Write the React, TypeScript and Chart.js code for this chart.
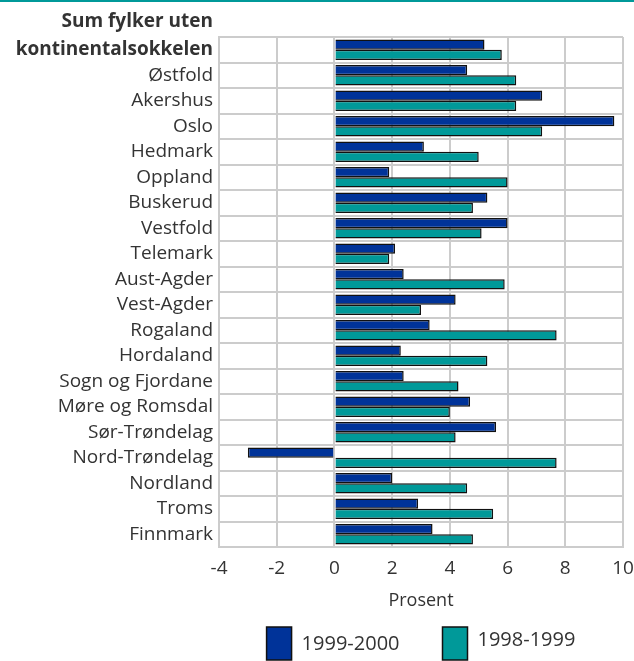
import React, { useEffect, useRef } from "react";
import { Chart, registerables } from "chart.js";

Chart.register(...registerables);

const categories: (string | string[])[] = [
  ["Sum fylker uten", "kontinentalsokkelen"],
  "Østfold",
  "Akershus",
  "Oslo",
  "Hedmark",
  "Oppland",
  "Buskerud",
  "Vestfold",
  "Telemark",
  "Aust-Agder",
  "Vest-Agder",
  "Rogaland",
  "Hordaland",
  "Sogn og Fjordane",
  "Møre og Romsdal",
  "Sør-Trøndelag",
  "Nord-Trøndelag",
  "Nordland",
  "Troms",
  "Finnmark",
];

const series1999_2000 = [5.2, 4.6, 7.2, 9.7, 3.1, 1.9, 5.3, 6.0, 2.1, 2.4, 4.2, 3.3, 2.3, 2.4, 4.7, 5.6, -3.0, 2.0, 2.9, 3.4];
const series1998_1999 = [5.8, 6.3, 6.3, 7.2, 5.0, 6.0, 4.8, 5.1, 1.9, 5.9, 3.0, 7.7, 5.3, 4.3, 4.0, 4.2, 7.7, 4.6, 5.5, 4.8];

const xMin = -4;
const xMax = 10;
const xStep = 2;

const FONT = "'Open Sans', 'Noto Sans', sans-serif";
const TEXT = "#333333";

export default function App() {
  const ref = useRef<HTMLCanvasElement>(null);

  useEffect(() => {
    document.body.style.margin = "0";
    const decor = {
      id: "decor",
      beforeDraw(chart: any) {
        const ctx = chart.ctx;
        ctx.save();
        ctx.fillStyle = "#009999";
        ctx.fillRect(0, 0, chart.width, 2);
        ctx.restore();
      },
      afterDraw(chart: any) {
        const ctx = chart.ctx;
        const area = chart.chartArea;
        const boxW = 25;
        const boxH = 33;
        const gap = 10;
        const itemGap = 43;
        ctx.save();
        ctx.font = `20px ${FONT}`;
        const items = chart.data.datasets.map((ds: any) => ({
          label: ds.label,
          color: ds.backgroundColor,
          w: boxW + gap + ctx.measureText(ds.label).width,
        }));
        const total = items.reduce((s: number, it: any) => s + it.w, 0) + itemGap * (items.length - 1);
        let x = (area.left + area.right) / 2 - total / 2;
        const top = area.bottom + 80;
        items.forEach((it: any, i: number) => {
          ctx.fillStyle = it.color;
          ctx.fillRect(x, top, boxW, boxH);
          ctx.strokeStyle = "#111111";
          ctx.lineWidth = 1.5;
          ctx.strokeRect(x, top, boxW, boxH);
          ctx.fillStyle = TEXT;
          ctx.textBaseline = "middle";
          ctx.textAlign = "left";
          ctx.fillText(it.label, x + boxW + gap, top + boxH / 2 + (i === 0 ? 1 : -3));
          x += it.w + itemGap;
        });
        ctx.restore();
      },
    };
    const chart = new Chart(ref.current!, {
      type: "bar",
      data: {
        labels: categories,
        datasets: [
          {
            label: "1999-2000",
            data: series1999_2000,
            backgroundColor: "#003399",
            borderColor: "#111111",
            borderWidth: 1.5,
            categoryPercentage: 0.8,
            barPercentage: 1.0,
          },
          {
            label: "1998-1999",
            data: series1998_1999,
            backgroundColor: "#009999",
            borderColor: "#111111",
            borderWidth: 1.5,
            categoryPercentage: 0.8,
            barPercentage: 1.0,
          },
        ],
      },
      options: {
        indexAxis: "y",
        responsive: false,
        animation: false,
        layout: { padding: { top: 37, right: 11, left: 0, bottom: 45 } },
        scales: {
          x: {
            min: xMin,
            max: xMax,
            ticks: {
              stepSize: xStep,
              color: TEXT,
              font: { family: FONT, size: 19 },
              padding: 10,
            },
            grid: { color: "#cccccc", lineWidth: 2, drawTicks: false },
            border: { color: "#cccccc", width: 2 },
            title: {
              display: true,
              text: "Prosent",
              color: TEXT,
              font: { family: FONT, size: 18 },
              padding: { top: 4, bottom: 4 },
            },
            afterFit: (scale: any) => {
              scale.height = 69;
              scale.paddingLeft = 0;
              scale.paddingRight = 0;
            },
          },
          y: {
            ticks: {
              color: TEXT,
              callback: function (this: any, value: any, index: number) {
                const l = categories[index];
                return Array.isArray(l) ? [...l, ""] : l;
              },
              font: (c: any) =>
                c.index === 0
                  ? { family: FONT, size: 19, weight: "bold", lineHeight: 1.47 }
                  : { family: FONT, size: 19 },
              padding: 6,
              autoSkip: false,
            },
            grid: { color: "#cccccc", lineWidth: 2, drawTicks: false },
            border: { color: "#cccccc", width: 2 },
            afterFit: (scale: any) => {
              scale.width = 219;
              scale.paddingTop = 0;
              scale.paddingBottom = 0;
            },
          },
        },
        plugins: {
          legend: { display: false },
          tooltip: { enabled: false },
        },
      },
      plugins: [decor],
    } as any);
    return () => chart.destroy();
  }, []);

  return (
    <div style={{ width: 634, height: 661 }}>
      <canvas ref={ref} width={634} height={661} />
    </div>
  );
}
